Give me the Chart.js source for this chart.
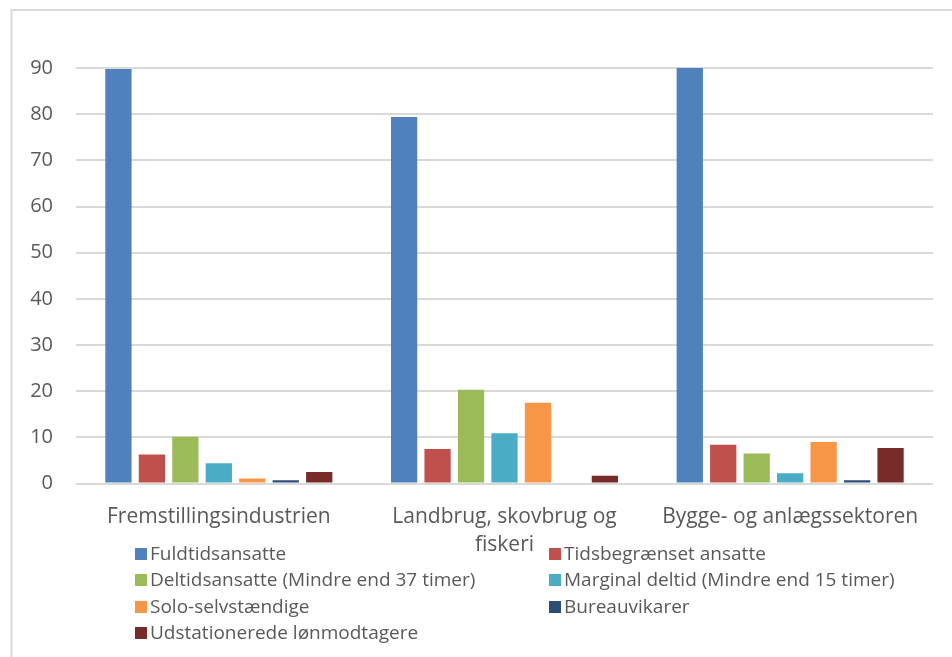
<!DOCTYPE html>
<html>
<head>
<meta charset="utf-8">
<script src="https://cdn.jsdelivr.net/npm/chart.js@4"></script>
<style>
  html, body { margin: 0; padding: 0; background: #ffffff; }
  #wrap { position: relative; width: 952px; height: 657px; }
</style>
</head>
<body>
<div id="wrap"><canvas id="chart" width="952" height="657"></canvas></div>
<script>
// Kategorier og serier
var kategorier = ['Fremstillingsindustrien', ['Landbrug, skovbrug og', 'fiskeri'], 'Bygge- og anlægssektoren'];
var serieNavne = [
    'Fuldtidsansatte',
    'Tidsbegrænset ansatte',
    'Deltidsansatte (Mindre end 37 timer)',
    'Marginal deltid (Mindre end 15 timer)',
    'Solo-selvstændige',
    'Bureauvikarer',
    'Udstationerede lønmodtagere'
];
var fuldtid = [89.8, 79.4, 90.0];
var tidsbegraenset = [6.3, 7.5, 8.4];
var deltid = [10.1, 20.3, 6.5];
var marginal = [4.4, 10.9, 2.2];
var solo = [1.1, 17.5, 9.0];
var bureau = [0.7, 0, 0.7];
var udstationerede = [2.5, 1.7, 7.7];
var yTicks = [0, 10, 20, 30, 40, 50, 60, 70, 80, 90];

var farver = ['#4F81BD', '#C0504D', '#9BBB59', '#4BACC6', '#F79646', '#2C4D75', '#772C2A'];
var serier = [fuldtid, tidsbegraenset, deltid, marginal, solo, bureau, udstationerede];

var tekstFarve = '#595959';
var skrift = "'Open Sans', 'DejaVu Sans', sans-serif";

// ramme rundt om diagrammet
var rammePlugin = {
    id: 'ramme',
    beforeDraw: function (chart) {
        var c = chart.ctx;
        c.save();
        c.strokeStyle = '#d9d9d9';
        c.lineWidth = 2;
        c.beginPath();
        c.moveTo(11.5, 657);
        c.lineTo(11.5, 10);
        c.lineTo(952, 10);
        c.stroke();
        c.restore();
    }
};

// forklaring i to kolonner, som i Excel
var forklaringPlugin = {
    id: 'forklaring',
    afterDraw: function (chart) {
        var c = chart.ctx;
        var kolX = [135, 549];
        var raekkeY = [554, 580, 607, 633];
        c.save();
        c.font = '19px ' + skrift;
        c.textBaseline = 'middle';
        c.textAlign = 'left';
        chart.data.datasets.forEach(function (ds, i) {
            var x = kolX[i % 2];
            var y = raekkeY[Math.floor(i / 2)];
            c.fillStyle = ds.backgroundColor;
            c.fillRect(x, y - 6, 12, 12);
            c.fillStyle = tekstFarve;
            c.fillText(ds.label, x + 15, y + 1);
        });
        c.restore();
    }
};

document.addEventListener("DOMContentLoaded", function () {
    var ctx = document.getElementById('chart').getContext('2d');

    var datasets = serier.map(function (vaerdier, i) {
        return {
            label: serieNavne[i],
            data: vaerdier,
            backgroundColor: farver[i],
            borderWidth: 0,
            categoryPercentage: 0.82,
            barPercentage: 0.785
        };
    });

    new Chart(ctx, {
        type: 'bar',
        data: { labels: kategorier, datasets: datasets },
        plugins: [rammePlugin, forklaringPlugin],
        options: {
            responsive: false,
            animation: false,
            layout: { padding: { top: 68, right: 19, left: 0, bottom: 0 } },
            plugins: {
                legend: { display: false },
                title: { display: false },
                tooltip: { enabled: false }
            },
            scales: {
                x: {
                    grid: { display: false, drawTicks: false },
                    border: { display: false },
                    ticks: {
                        color: tekstFarve,
                        font: { family: skrift, size: 21, lineHeight: 1.33 },
                        padding: 20,
                        maxRotation: 0,
                        autoSkip: false
                    },
                    afterFit: function (scale) { scale.height = 173.5; }
                },
                y: {
                    min: 0,
                    max: 90,
                    grid: { color: '#d9d9d9', lineWidth: 2, drawTicks: false },
                    border: { display: false },
                    afterBuildTicks: function (scale) {
                        scale.ticks = yTicks.map(function (v) { return { value: v }; });
                    },
                    ticks: {
                        color: tekstFarve,
                        font: { family: skrift, size: 20 },
                        padding: 23
                    },
                    afterFit: function (scale) { scale.width = 76; }
                }
            }
        }
    });
});
</script>
</body>
</html>
